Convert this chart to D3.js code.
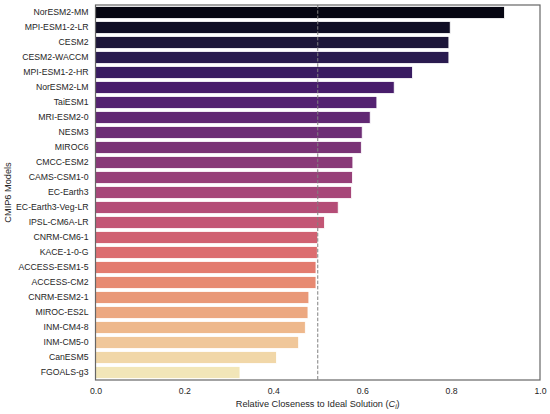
<!DOCTYPE html>
<html><head><meta charset="utf-8">
<script src="https://cdn.jsdelivr.net/npm/d3@7"></script>
<style>body{margin:0;background:#fff;} text{font-family:"Liberation Sans",Arial,sans-serif;}</style>
</head><body>
<svg id="c" width="550" height="414"></svg>
<script>
const models = ["NorESM2-MM","MPI-ESM1-2-LR","CESM2","CESM2-WACCM","MPI-ESM1-2-HR","NorESM2-LM","TaiESM1","MRI-ESM2-0","NESM3","MIROC6","CMCC-ESM2","CAMS-CSM1-0","EC-Earth3","EC-Earth3-Veg-LR","IPSL-CM6A-LR","CNRM-CM6-1","KACE-1-0-G","ACCESS-ESM1-5","ACCESS-CM2","CNRM-ESM2-1","MIROC-ES2L","INM-CM4-8","INM-CM5-0","CanESM5","FGOALS-g3"];
const closeness = [0.920,0.798,0.795,0.795,0.713,0.672,0.633,0.618,0.600,0.598,0.579,0.578,0.576,0.546,0.515,0.500,0.499,0.496,0.496,0.480,0.478,0.472,0.457,0.407,0.325];
const xTicks = [0.0,0.2,0.4,0.6,0.8,1.0];
const threshold = 0.5;

const svg = d3.select("#c");
const m = {left:95.5, right:540, top:5, bottom:380};
const x = d3.scaleLinear().domain([0,1]).range([m.left, m.right]);
const y = d3.scaleBand().domain(models).range([m.top, m.bottom]).paddingInner(0.2).paddingOuter(0.1);

const n = models.length;
function color(i){
  const t = (i+1)/(n+1);
  const c = d3.hsl(d3.interpolateMagma(t));
  c.s *= 0.75;
  return c.formatHex();
}

svg.append("g").selectAll("rect").data(models).join("rect")
  .attr("x", x(0))
  .attr("y", d => y(d))
  .attr("width", (d,i) => x(closeness[i]) - x(0))
  .attr("height", y.bandwidth())
  .attr("fill", (d,i) => color(i))
  .attr("stroke", "#fff").attr("stroke-width", 0.8);

svg.append("line")
  .attr("x1", x(threshold)).attr("x2", x(threshold))
  .attr("y1", m.top).attr("y2", m.bottom)
  .attr("stroke", "#808080").attr("stroke-width", 1)
  .attr("stroke-dasharray", "3.5,1.8");

svg.append("rect")
  .attr("x", m.left).attr("y", m.top)
  .attr("width", m.right - m.left).attr("height", m.bottom - m.top)
  .attr("fill", "none").attr("stroke", "#666").attr("stroke-width", 1.2);

const yAxis = d3.axisLeft(y).tickSize(0).tickPadding(7);
const gy = svg.append("g").attr("transform", `translate(${m.left},0)`).call(yAxis);
gy.select(".domain").remove();
gy.selectAll("text").attr("font-size", 8.7).attr("fill", "#262626")
  .style("font-family", '"Liberation Sans",Arial,sans-serif');

const xAxis = d3.axisBottom(x).tickValues(xTicks).tickFormat(d3.format(".1f")).tickSize(0).tickPadding(8);
const gx = svg.append("g").attr("transform", `translate(0,${m.bottom})`).call(xAxis);
gx.select(".domain").remove();
gx.selectAll("text").attr("font-size", 8.7).attr("fill", "#262626")
  .style("font-family", '"Liberation Sans",Arial,sans-serif');

const xt = svg.append("text")
  .attr("x", (m.left + m.right)/2).attr("y", 406.5)
  .attr("text-anchor", "middle").attr("font-size", 9.2).attr("fill", "#262626");
xt.append("tspan").text("Relative Closeness to Ideal Solution (");
xt.append("tspan").attr("font-style", "italic").text("C");
xt.append("tspan").attr("font-style", "italic").attr("font-size", 6.5).attr("dy", 2).text("i");
xt.append("tspan").attr("dy", -2).text(")");

svg.append("text")
  .attr("transform", `translate(11,${(m.top + m.bottom)/2}) rotate(-90)`)
  .attr("text-anchor", "middle").attr("font-size", 9.2).attr("fill", "#262626")
  .text("CMIP6 Models");
</script>
</body></html>
